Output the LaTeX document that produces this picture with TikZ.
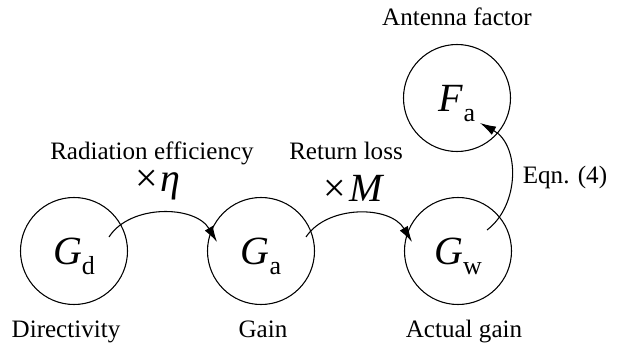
\documentclass[tikz,border=0pt]{standalone}
\usepackage{fontspec}
\setmainfont{LiberationSerif}[Extension=.ttf,UprightFont=*-Regular,ItalicFont=*-Italic,BoldFont=*-Bold,BoldItalicFont=*-BoldItalic]
\usetikzlibrary{arrows.meta,calc}
\newcommand\qsub[1]{\raisebox{-7.5pt}{\fontsize{19.5}{19.5}\selectfont #1}}
\begin{document}
\begin{tikzpicture}[x=0.75pt,y=-0.75pt,
  qty/.style={circle,draw,line width=0.8pt,minimum size=80.25pt,inner sep=0pt,text depth=0pt,font=\fontsize{30}{30}\selectfont},
  lbl/.style={font=\fontsize{18.8}{18.8}\selectfont,anchor=base,inner sep=0pt},
  fac/.style={font=\fontsize{30}{30}\selectfont,anchor=base,inner sep=0pt,text height=14pt},
  flow/.style={line width=0.8pt,-{Latex[length=12pt,width=7pt]}}]
\useasboundingbox (0,0) rectangle (618,346);
% quantities
\node[qty] (gd) at (74,251) {\textit{G}\qsub{d}};
\node[qty] (ga) at (261,251) {\textit{G}\qsub{a}};
\node[qty] (gw) at (458,251) {\textit{G}\qsub{w}};
\node[qty] (fa) at (457,98) {\textit{F}\qsub{a}};
% labels
\node[lbl] (lfa) at (457,26) {Antenna factor};
\node[lbl] (lgd) at (66,337) {Directivity};
\node[lbl] (lga) at (263,337) {Gain};
\node[lbl] (lgw) at (464,337) {Actual gain};
\node[lbl] (lrad) at (152,160) {Radiation efficiency};
\node[lbl] (lret) at (346,160) {Return loss};
\node[lbl] (leqn) at (565,183) {Eqn. (4)};
\node[fac] (feta) at (158,191) {×\kern2pt\textit{η}};
\node[fac] (fm) at (354,201) {×\kern2pt\textit{M}};
% connector ends
\coordinate (s1) at ($(gd)+(35,-14)$);
\coordinate (e1) at ($(ga)+(-44,-9)$);
\coordinate (s2) at ($(ga)+(45,-14)$);
\coordinate (e2) at ($(gw)+(-46,-9)$);
\coordinate (s3) at ($(gw)+(29,-21)$);
\coordinate (e3) at ($(fa)+(23,25)$);
\draw[flow] (s1) .. controls ($(s1)+(21,-33)$) and ($(e1)+(-22,-37)$) .. (e1);
\draw[flow] (s2) .. controls ($(s2)+(21,-32)$) and ($(e2)+(-22,-37)$) .. (e2);
\draw[flow] (s3) .. controls ($(s3)+(33,-25)$) and ($(e3)+(40,22)$) .. (e3);
\end{tikzpicture}
\end{document}
